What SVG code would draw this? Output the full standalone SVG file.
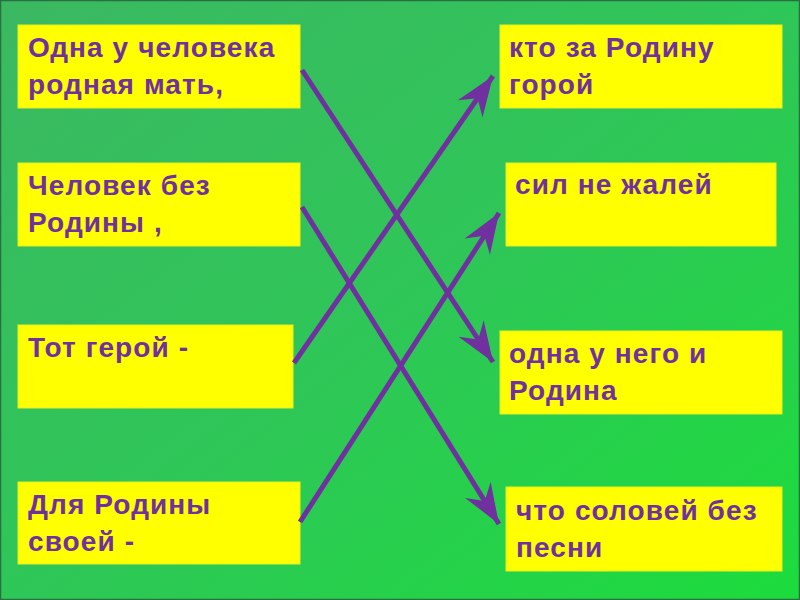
<svg xmlns="http://www.w3.org/2000/svg" width="800" height="600" viewBox="0 0 800 600">
<style>
.box{fill:#ffff00;stroke:#e6f020;stroke-width:1}
.t{font-family:"Liberation Sans",Arial,sans-serif;font-weight:bold;font-size:28px;letter-spacing:1.1px;fill:#7030a0}
.c{stroke:#7030a0;stroke-width:5;fill:none;marker-end:url(#ah)}
</style>
<defs>
<linearGradient id="bg" x1="0" y1="0" x2="1" y2="1">
<stop offset="0" stop-color="#3bb862"/>
<stop offset="0.5" stop-color="#2fc658"/>
<stop offset="1" stop-color="#1cdc3c"/>
</linearGradient>
<marker id="ah" markerUnits="userSpaceOnUse" viewBox="-42 -17 44 34" refX="0" refY="0" markerWidth="44" markerHeight="34" orient="auto">
<path d="M0,0 L-40,-15 L-27,0 L-40,15 Z" fill="#7030a0"/>
</marker>
</defs>
<rect x="0" y="0" width="800" height="600" fill="url(#bg)"/>
<rect x="0.5" y="0.5" width="799" height="599" fill="none" stroke="#2a6e44" stroke-width="1.5"/>

<g id="left1"><rect class="box" x="18" y="25" width="282" height="83"/>
<text class="t" x="28" y="57">Одна у человека</text><text class="t" x="28" y="94">родная мать,</text></g>
<g id="left2"><rect class="box" x="18" y="163" width="282" height="83"/>
<text class="t" x="28" y="195">Человек без</text><text class="t" x="28" y="232">Родины ,</text></g>
<g id="left3"><rect class="box" x="18" y="325" width="275" height="83"/>
<text class="t" x="28" y="357">Тот герой -</text></g>
<g id="left4"><rect class="box" x="18" y="482" width="282" height="82"/>
<text class="t" x="28" y="514">Для Родины</text><text class="t" x="28" y="551">своей -</text></g>

<g id="right1"><rect class="box" x="500" y="25" width="282" height="83"/>
<text class="t" x="509" y="57">кто за Родину</text><text class="t" x="509" y="94">горой</text></g>
<g id="right2"><rect class="box" x="506" y="163" width="270" height="83"/>
<text class="t" x="515" y="194">сил не жалей</text></g>
<g id="right3"><rect class="box" x="500" y="331" width="282" height="83"/>
<text class="t" x="509" y="363">одна у него и</text><text class="t" x="509" y="400">Родина</text></g>
<g id="right4"><rect class="box" x="506" y="487" width="276" height="84"/>
<text class="t" x="516" y="520">что соловей без</text><text class="t" x="516" y="557">песни</text></g>

<g id="connectors">
<line class="c" x1="302" y1="70" x2="493" y2="362"/>
<line class="c" x1="302" y1="207" x2="499" y2="524"/>
<line class="c" x1="294" y1="363" x2="493" y2="76"/>
<line class="c" x1="300" y1="522" x2="499" y2="213"/>
</g>
</svg>
